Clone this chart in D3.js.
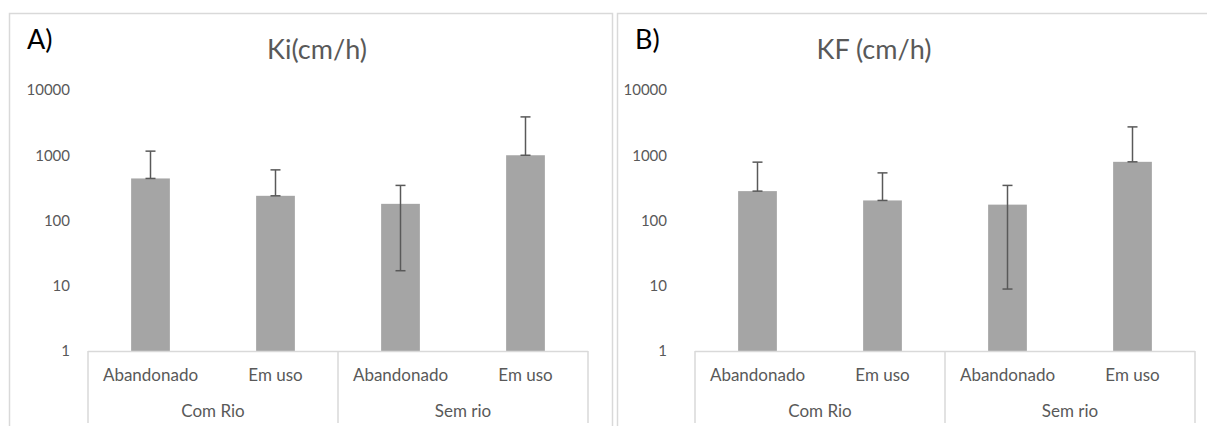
<!DOCTYPE html>
<html>
<head>
<meta charset="utf-8">
<script src="https://cdn.jsdelivr.net/npm/d3@7"></script>
<style>
  body { margin: 0; background: #fff; }
  text { font-family: Lato, "Open Sans", sans-serif; }
</style>
</head>
<body>
<svg id="chart" width="1207" height="426"></svg>
<script>
// dados
var categorias = ["Abandonado", "Em uso", "Abandonado", "Em uso"]
var grupos = ["Com Rio", "Sem rio"]
var yTicks = [1, 10, 100, 1000, 10000]

// Ki (cm/h)
var kiValores = [441, 239, 180, 1000]
var kiSuperior = [1156, 597, 345, 3870]
var kiInferior = [441, 239, 17, 1000]

// KF (cm/h)
var kfValores = [282, 203, 175, 793]
var kfSuperior = [784, 537, 345, 2720]
var kfInferior = [282, 203, 8.9, 793]

var svg = d3.select("#chart")

function painel(px, bordaX, bordaW, letra, titulo, tituloX, valores, sup, inf, labelX){
  var plotL = px, plotR = px + 500, top = 90, base = 351

  // borda do painel
  svg.append("rect")
    .attr("x", bordaX + 0.5).attr("y", 13.5)
    .attr("width", bordaW).attr("height", 430)
    .attr("fill", "none").attr("stroke", "#d9d9d9").attr("stroke-width", 1.5)

  var x = d3.scaleBand().domain(d3.range(categorias.length)).range([plotL, plotR]).paddingInner(0.69).paddingOuter(0.345)
  var y = d3.scaleLog().domain([1, 10000]).range([base, top])

  var g = svg.append("g")

  // rotulos do eixo y
  g.selectAll(".ytick")
    .data(yTicks)
    .enter()
    .append("text")
    .attr("x", labelX)
    .attr("y", function(d){ return y(d) })
    .attr("dy", "0.35em")
    .attr("text-anchor", "end")
    .style("font-size", "15px")
    .style("fill", "#595959")
    .text(function(d){ return d })

  // barras
  g.selectAll(".bar")
    .data(valores)
    .enter()
    .append("rect")
    .attr("x", function(d, i){ return x(i) })
    .attr("y", function(d){ return y(d) })
    .attr("width", x.bandwidth())
    .attr("height", function(d){ return base - y(d) })
    .style("fill", "#a5a5a5")

  // barras de erro
  var cx = function(i){ return x(i) + x.bandwidth() / 2 }
  valores.forEach(function(v, i){
    g.append("line")
      .attr("x1", cx(i)).attr("x2", cx(i))
      .attr("y1", y(sup[i])).attr("y2", y(inf[i]))
      .style("stroke", "#595959").style("stroke-width", 1.5)
    ;[sup[i], inf[i]].forEach(function(e){
      g.append("line")
        .attr("x1", cx(i) - 5).attr("x2", cx(i) + 5)
        .attr("y1", y(e)).attr("y2", y(e))
        .style("stroke", "#595959").style("stroke-width", 1.5)
    })
  })

  // eixo de categorias com dois niveis
  var step = (plotR - plotL) / categorias.length
  g.append("line")
    .attr("x1", plotL).attr("x2", plotR).attr("y1", base + 0.5).attr("y2", base + 0.5)
    .style("stroke", "#d9d9d9").style("stroke-width", 1.5)
  ;[0, 2, 4].forEach(function(k){
    g.append("line")
      .attr("x1", plotL + k * step).attr("x2", plotL + k * step)
      .attr("y1", base).attr("y2", 423)
      .style("stroke", "#d9d9d9").style("stroke-width", 1.5)
  })

  g.selectAll(".cat")
    .data(categorias)
    .enter()
    .append("text")
    .attr("x", function(d, i){ return cx(i) })
    .attr("y", 381)
    .attr("text-anchor", "middle")
    .style("font-size", "17px")
    .style("fill", "#595959")
    .text(function(d){ return d })

  g.selectAll(".grp")
    .data(grupos)
    .enter()
    .append("text")
    .attr("x", function(d, i){ return plotL + (i * 2 + 1) * step })
    .attr("y", 417)
    .attr("text-anchor", "middle")
    .style("font-size", "17px")
    .style("fill", "#595959")
    .text(function(d){ return d })

  // titulo e letra
  svg.append("text")
    .attr("x", tituloX).attr("y", 59)
    .attr("text-anchor", "middle")
    .style("font-size", "27px")
    .style("fill", "#595959")
    .text(titulo)

  svg.append("text")
    .attr("x", bordaX + 18).attr("y", 49)
    .style("font-size", "27px")
    .style("fill", "#000")
    .text(letra)
}

painel(88, 9, 603, "A)", "Ki(cm/h)", 317, kiValores, kiSuperior, kiInferior, 70)
painel(695, 617, 620, "B)", "KF (cm/h)", 874, kfValores, kfSuperior, kfInferior, 667)
</script>
</body>
</html>
